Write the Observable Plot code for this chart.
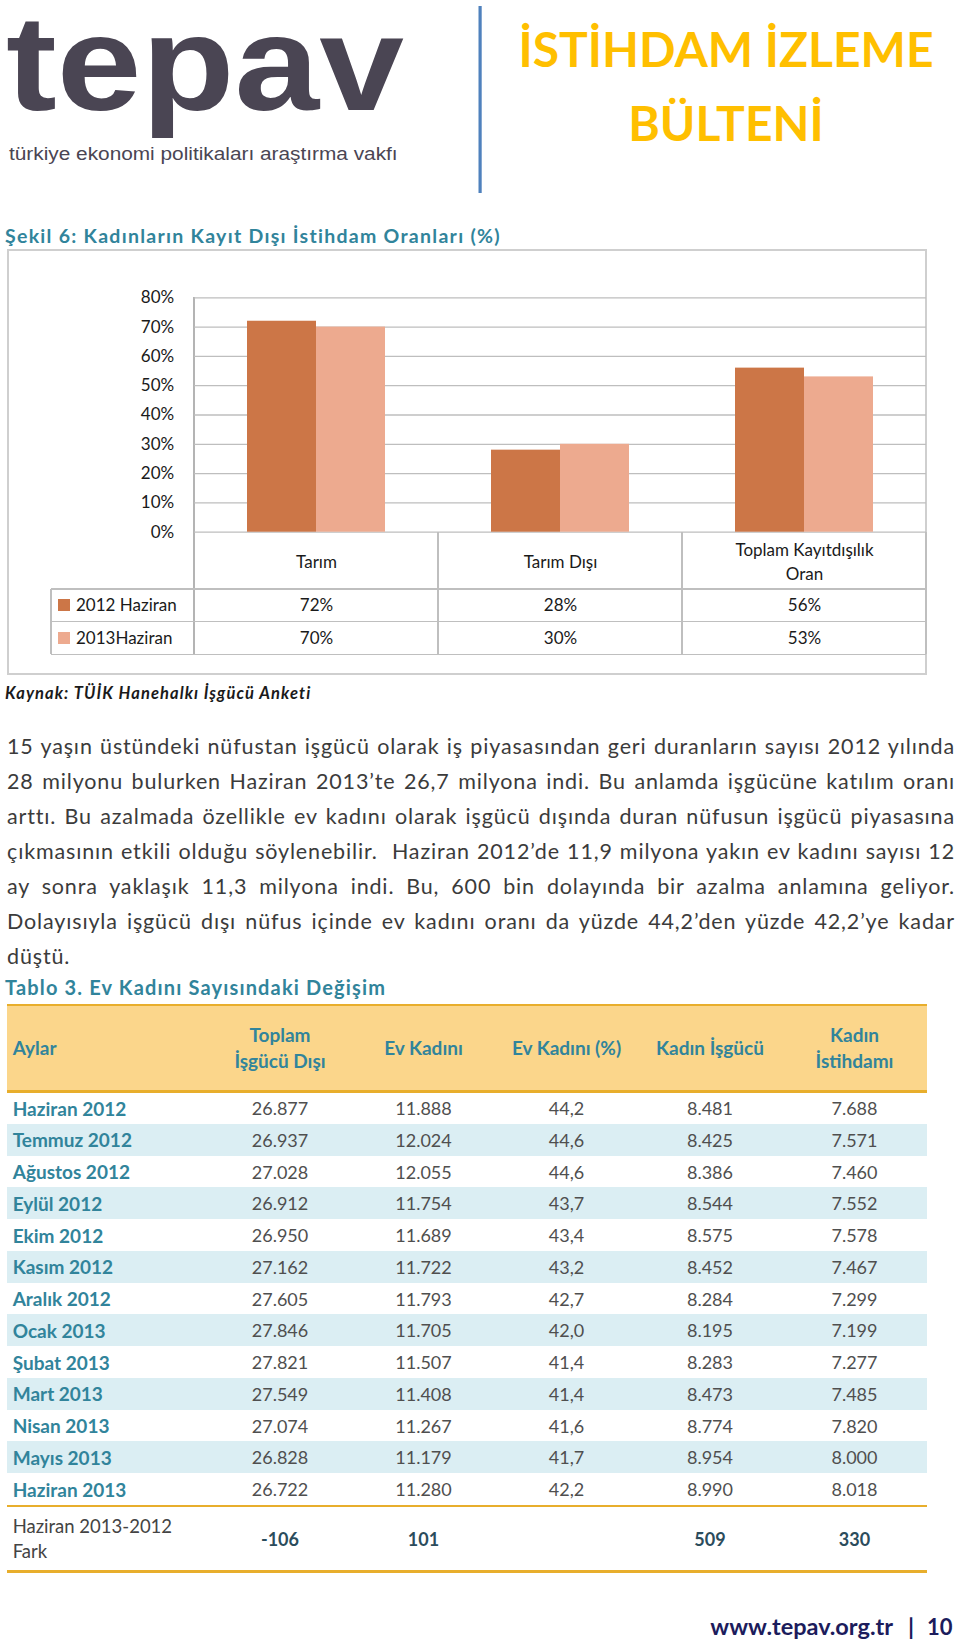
<!DOCTYPE html>
<html>
<head>
<meta charset="utf-8">
<script src="https://cdn.jsdelivr.net/npm/d3@7"></script>
<script src="https://cdn.jsdelivr.net/npm/@observablehq/plot@0.6"></script>
<style>
  html, body { margin: 0; padding: 0; background: #fff; }
  body { width: 960px; height: 1645px; position: relative; overflow: hidden; font-family: Lato, "Open Sans", sans-serif; }
  .abs { position: absolute; }
  .pline { position: absolute; left: 7px; font-size: 21.5px; line-height: 35px; height: 35px; color: #3b3b3b; white-space: pre; }
  .hline { position: absolute; background: #bfbfbf; }
  .cell { position: absolute; display: flex; align-items: center; justify-content: center; text-align: center; box-sizing: border-box; }
</style>
</head>
<body>

<svg class="abs" style="left:0;top:0" width="960" height="1645">
  <text id="logo" x="0" y="0" font-family="'Liberation Sans', Arial, sans-serif" font-weight="700" font-size="136" fill="#4a4553">tepav</text>
  <text id="logosub" x="0" y="0" font-family="'Liberation Sans', Arial, sans-serif" font-size="17.5" fill="#4a4553">türkiye ekonomi politikaları araştırma vakfı</text>
  <rect x="478.5" y="6" width="3.2" height="187" fill="#4f81bd"></rect>
  <text x="726" y="67" text-anchor="middle" font-family="Lato, sans-serif" font-weight="700" font-size="48" fill="#ffbf00">İSTİHDAM İZLEME</text>
  <text x="726" y="141" text-anchor="middle" font-family="Lato, sans-serif" font-weight="700" font-size="48" fill="#ffbf00">BÜLTENİ</text>
  <text id="sekil" x="5" y="243" font-family="Lato, sans-serif" font-weight="700" font-size="19.5" fill="#31849b">Şekil 6: Kadınların Kayıt Dışı İstihdam Oranları (%)</text>
  <text id="kaynak" x="5" y="699" font-family="Lato, sans-serif" font-weight="700" font-style="italic" font-size="16.5" fill="#1a1a1a">Kaynak: TÜİK Hanehalkı İşgücü Anketi</text>
  <text id="tablo" x="5" y="995" font-family="Lato, sans-serif" font-weight="700" font-size="20" fill="#31849b">Tablo 3. Ev Kadını Sayısındaki Değişim</text>
  <text x="893" y="1635" text-anchor="end" font-family="Lato, sans-serif" font-weight="700" font-size="23.5" fill="#1c1c5c">www.tepav.org.tr</text>
  <text x="911" y="1635" text-anchor="middle" font-family="Lato, sans-serif" font-weight="700" font-size="23.5" fill="#1c1c5c">|</text>
  <text x="927" y="1635" text-anchor="start" font-family="Lato, sans-serif" font-weight="700" font-size="22" fill="#1c1c5c">10</text>
</svg>

<div id="chartbox" class="abs" style="left:7px;top:249px;width:920px;height:426px;box-sizing:border-box;border:2px solid #cfcfcf;"></div>
<div id="chartlines"></div>
<div id="chart" class="abs" style="left:7px;top:249px;"></div>
<div id="legend"></div>

<div id="para"></div>
<div id="table3"></div>

<script>
// ---------- Chart data ----------
const categories = ["Tarım", "Tarım Dışı", "Toplam Kayıtdışılık Oran"];
const categoryLabels = ["Tarım", "Tarım Dışı", "Toplam Kayıtdışılık\nOran"];
const series = ["2012 Haziran", "2013Haziran"];
const values2012 = [72, 28, 56];
const values2013 = [70, 30, 53];
const yTicks = [0, 10, 20, 30, 40, 50, 60, 70, 80];

// ---------- Paragraph text (one entry per printed line) ----------
const paragraphLines = [
  "15 yaşın üstündeki nüfustan işgücü olarak iş piyasasından geri duranların sayısı 2012 yılında",
  "28 milyonu bulurken Haziran 2013’te 26,7 milyona indi. Bu anlamda işgücüne katılım oranı",
  "arttı. Bu azalmada özellikle ev kadını olarak işgücü dışında duran nüfusun işgücü piyasasına",
  "çıkmasının etkili olduğu söylenebilir.  Haziran 2012’de 11,9 milyona yakın ev kadını sayısı 12",
  "ay sonra yaklaşık 11,3 milyona indi. Bu, 600 bin dolayında bir azalma anlamına geliyor.",
  "Dolayısıyla işgücü dışı nüfus içinde ev kadını oranı da yüzde 44,2’den yüzde 42,2’ye kadar",
  "düştü."
];

// ---------- Table 3 data ----------
const tableHeaders = ["Aylar", "Toplam\nİşgücü Dışı", "Ev Kadını", "Ev Kadını (%)", "Kadın İşgücü", "Kadın\nİstihdamı"];
const tableMonths = ["Haziran 2012", "Temmuz 2012", "Ağustos 2012", "Eylül 2012", "Ekim 2012", "Kasım 2012", "Aralık 2012", "Ocak 2013", "Şubat 2013", "Mart 2013", "Nisan 2013", "Mayıs 2013", "Haziran 2013"];
const toplamIsgucuDisi = ["26.877", "26.937", "27.028", "26.912", "26.950", "27.162", "27.605", "27.846", "27.821", "27.549", "27.074", "26.828", "26.722"];
const evKadini = ["11.888", "12.024", "12.055", "11.754", "11.689", "11.722", "11.793", "11.705", "11.507", "11.408", "11.267", "11.179", "11.280"];
const evKadiniPct = ["44,2", "44,6", "44,6", "43,7", "43,4", "43,2", "42,7", "42,0", "41,4", "41,4", "41,6", "41,7", "42,2"];
const kadinIsgucu = ["8.481", "8.425", "8.386", "8.544", "8.575", "8.452", "8.284", "8.195", "8.283", "8.473", "8.774", "8.954", "8.990"];
const kadinIstihdami = ["7.688", "7.571", "7.460", "7.552", "7.578", "7.467", "7.299", "7.199", "7.277", "7.485", "7.820", "8.000", "8.018"];
const farkLabel = "Haziran 2013-2012\nFark";
const farkValues = ["-106", "101", "", "509", "330"];

// ---------- Fit header texts to the widths they have in the page ----------
function scaleText(id, x, y, target) {
  const el = document.getElementById(id);
  const w = el.getComputedTextLength();
  el.setAttribute("transform", `translate(${x},${y}) scale(${target / w},1)`);
}
function spaceText(id, target) {
  const el = document.getElementById(id);
  const w = el.getComputedTextLength();
  const n = el.textContent.length;
  el.setAttribute("letter-spacing", ((target - w) / (n - 1)).toFixed(3));
}
scaleText("logo", 6, 110, 398);
scaleText("logosub", 9, 160, 389);
spaceText("sekil", 495);
spaceText("kaynak", 305);
spaceText("tablo", 380);

// ---------- Build the chart ----------
const seriesColors = ["#cc7647", "#edaa8f"];
const rows = categories.flatMap((c, i) => [
  {cat: c, series: series[0], value: values2012[i]},
  {cat: c, series: series[1], value: values2013[i]}
]);
const labelOf = new Map(categories.map((c, i) => [c, categoryLabels[i]]));

const chartLeft = 7, chartTop = 249;
const mTop = 48.3, mBottom = 143.3, mLeft = 186;
const catRowH = 57.3, legRowH = 32.65;

const chart = Plot.plot({
  width: 920,
  height: 426,
  marginLeft: mLeft,
  marginRight: 0,
  marginTop: mTop,
  marginBottom: mBottom,
  style: {background: "transparent", fontFamily: "Lato, sans-serif", fontSize: "17px", color: "#1a1a1a", overflow: "visible"},
  fx: {domain: categories, padding: 0, axis: null},
  x: {domain: series, paddingInner: 0, paddingOuter: 0.748, axis: null},
  y: {domain: [0, 80], ticks: yTicks, tickFormat: d => d + "%", tickSize: 0, tickPadding: 20.3, label: null},
  color: {domain: series, range: seriesColors},
  marks: [
    Plot.gridY(yTicks, {stroke: "#bebebe", strokeOpacity: 1, strokeWidth: 1.3}),
    Plot.barY(rows, {fx: "cat", x: "series", y: "value", fill: "series"}),
    Plot.text(categories, {fx: d => d, text: d => labelOf.get(d), frameAnchor: "bottom", dy: 27.8, lineAnchor: "middle", lineHeight: 1.47, fontSize: 17, fill: "#1a1a1a"}),
    Plot.text(rows.filter(r => r.series === series[0]), {fx: "cat", text: d => d.value + "%", frameAnchor: "bottom", dy: catRowH + legRowH / 2, lineAnchor: "middle", fontSize: 17, fill: "#1a1a1a"}),
    Plot.text(rows.filter(r => r.series === series[1]), {fx: "cat", text: d => d.value + "%", frameAnchor: "bottom", dy: catRowH + legRowH * 1.5, lineAnchor: "middle", fontSize: 17, fill: "#1a1a1a"})
  ]
});
document.getElementById("chart").appendChild(chart);

// Lines of the chart's data table, derived from the library's scales
const fx = chart.scale("fx");
const ys = chart.scale("y");
const y0 = chartTop + ys.apply(0);
const yTop = chartTop + ys.apply(80);
const edges = categories.map(c => chartLeft + fx.apply(c));
edges.push(chartLeft + fx.apply(categories[categories.length - 1]) + fx.bandwidth);
const legLeft = 51;
const tblBottom = y0 + catRowH + 2 * legRowH;
const lines = document.getElementById("chartlines");
function addLine(x, y, w, h, color) {
  const d = document.createElement("div");
  d.className = "hline";
  d.style.left = x + "px"; d.style.top = y + "px"; d.style.width = w + "px"; d.style.height = h + "px";
  if (color) d.style.background = color;
  lines.appendChild(d);
}
addLine(edges[0] - 0.75, yTop, 1.5, tblBottom - yTop, "#b4b4b4");
edges.slice(1).forEach(x => addLine(x - 0.75, y0, 1.5, tblBottom - y0));
addLine(legLeft - 0.75, y0 + catRowH, 1.5, 2 * legRowH);
[y0 + catRowH, y0 + catRowH + legRowH, tblBottom].forEach(y => addLine(legLeft, y - 0.75, edges[edges.length - 1] - legLeft, 1.5));

// Legend (series keys in the data table)
const legend = document.getElementById("legend");
series.forEach((s, i) => {
  const cy = y0 + catRowH + legRowH * (i + 0.5);
  const sw = document.createElement("div");
  sw.className = "abs";
  sw.style.cssText = `left:58px;top:${cy - 6}px;width:12px;height:12px;background:${seriesColors[i]};`;
  legend.appendChild(sw);
  const t = document.createElement("div");
  t.className = "abs";
  t.textContent = s;
  t.style.cssText = `left:76px;top:${cy - 12}px;height:24px;line-height:24px;font-size:17px;color:#1a1a1a;white-space:nowrap;`;
  legend.appendChild(t);
});

// ---------- Paragraph: each printed line justified to the column width ----------
const para = document.getElementById("para");
const colWidth = 948;
const spans = paragraphLines.map((ln, i) => {
  const d = document.createElement("div");
  d.className = "pline";
  d.style.top = (729 + 35 * i) + "px";
  const s = document.createElement("span");
  s.textContent = ln;
  d.appendChild(s);
  para.appendChild(d);
  return s;
});
const w1 = spans[0].getBoundingClientRect().width;
const ls = Math.max(0, (936 - w1) / paragraphLines[0].length);
spans.forEach((s, i) => {
  s.style.letterSpacing = ls + "px";
  if (i === spans.length - 1) return;
  const w = s.getBoundingClientRect().width;
  const nSpaces = (paragraphLines[i].match(/ /g) || []).length;
  s.style.wordSpacing = ((colWidth - w) / nSpaces) + "px";
});

// ---------- Table 3 ----------
const t3 = document.getElementById("table3");
const colX = [7, 208, 352, 495, 638, 782, 927];
const gold = "#e8ae2c";
function box(x, y, w, h, css, html) {
  const d = document.createElement("div");
  d.className = "cell";
  d.style.cssText += `left:${x}px;top:${y}px;width:${w}px;height:${h}px;` + css;
  if (html !== undefined) d.innerHTML = html;
  t3.appendChild(d);
  return d;
}
const esc = s => s.replace(/&/g, "&amp;").replace(/</g, "&lt;").replace(/\n/g, "<br>");
box(7, 1005, 920, 86.7, "background:#fbd68b;");
box(7, 1003.6, 920, 2.8, `background:${gold};`);
tableHeaders.forEach((h, j) => {
  const css = "font-weight:700;font-size:19px;line-height:26px;color:#31849b;" + (j === 0 ? "justify-content:flex-start;padding-left:5.7px;text-align:left;" : "");
  box(colX[j], 1006.4, colX[j + 1] - colX[j], 84, css, esc(h));
});
box(7, 1090.3, 920, 2.8, `background:${gold};`);
const rowH = 31.75, rowTop0 = 1092.2;
const dataCols = [toplamIsgucuDisi, evKadini, evKadiniPct, kadinIsgucu, kadinIstihdami];
tableMonths.forEach((m, i) => {
  const top = rowTop0 + rowH * i;
  if (i % 2 === 1) box(7, top, 920, rowH, "background:#dbeef3;");
  box(colX[0], top, colX[1] - colX[0], rowH, "justify-content:flex-start;padding-left:5.7px;font-weight:700;font-size:19px;color:#31849b;white-space:nowrap;", esc(m));
  dataCols.forEach((col, j) => {
    box(colX[j + 1], top, colX[j + 2] - colX[j + 1], rowH, "font-size:18px;color:#4f4f4f;", esc(col[i]));
  });
});
const farkTop = rowTop0 + rowH * tableMonths.length;
box(7, farkTop - 0.4, 920, 2.8, `background:${gold};`);
box(colX[0], farkTop + 2.4, colX[1] - colX[0], 63, "justify-content:flex-start;padding-left:5.7px;text-align:left;font-size:18.5px;line-height:25px;color:#444;white-space:nowrap;", esc(farkLabel));
farkValues.forEach((v, j) => {
  box(colX[j + 1], farkTop + 2.4, colX[j + 2] - colX[j + 1], 63, "font-weight:700;font-size:18px;color:#2b4c5c;", esc(v));
});
box(7, farkTop + 65.4, 920, 2.8, `background:${gold};`);
</script>
</body>
</html>
